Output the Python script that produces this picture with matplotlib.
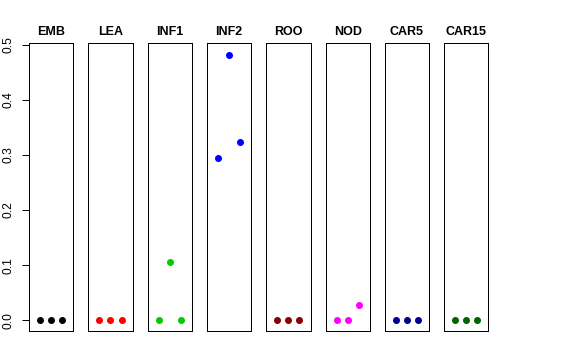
import matplotlib
matplotlib.use("Agg")
import matplotlib.pyplot as plt

# Tissue panels and their values at positions 1, 2, 3
tissues = ["EMB", "LEA", "INF1", "INF2", "ROO", "NOD", "CAR5", "CAR15"]
positions = [1, 2, 3]
emb = [0.0, 0.0, 0.0]
lea = [0.0, 0.0, 0.0]
inf1 = [0.0, 0.105, 0.0]
inf2 = [0.295, 0.482, 0.323]
roo = [0.0, 0.0, 0.0]
nod = [0.0, 0.0, 0.027]
car5 = [0.0, 0.0, 0.0]
car15 = [0.0, 0.0, 0.0]
colors = ["black", "red", "#00CD00", "blue", "#8B0000", "magenta", "#00008B", "#006400"]
yticks = [0.0, 0.1, 0.2, 0.3, 0.4, 0.5]

series = [emb, lea, inf1, inf2, roo, nod, car5, car15]

plt.rcParams["font.family"] = ["Liberation Sans", "DejaVu Sans"]
fig = plt.figure(figsize=(8, 5), dpi=72)

W, H = 576.0, 360.0
left, panel_w, gap = 29.0, 44.3, 15.0
top, bottom = 43.0, 331.0

for i, (name, vals, col) in enumerate(zip(tissues, series, colors)):
    x0 = left + i * (panel_w + gap)
    ax = fig.add_axes([x0 / W, 1 - bottom / H, panel_w / W, (bottom - top) / H])
    ax.plot(positions, vals, "o", color=col, markersize=7, markeredgewidth=0)
    ax.set_xlim(0, 4)
    ax.set_ylim(-0.0194, 0.503)
    ax.set_xticks([])
    for s in ax.spines.values():
        s.set_linewidth(1.0)
        s.set_color("black")
    ax.set_title(name, fontsize=12.5, fontweight="bold", pad=8)
    if i == 0:
        ax.set_yticks(yticks)
        ax.set_yticklabels([f"{v:.1f}" for v in yticks], fontsize=12)
        ax.tick_params(axis="y", length=7, width=1, pad=7, labelrotation=90)
        for lbl in ax.get_yticklabels():
            lbl.set_verticalalignment("center")
    else:
        ax.set_yticks([])

fig.savefig("out.png", dpi=72)
